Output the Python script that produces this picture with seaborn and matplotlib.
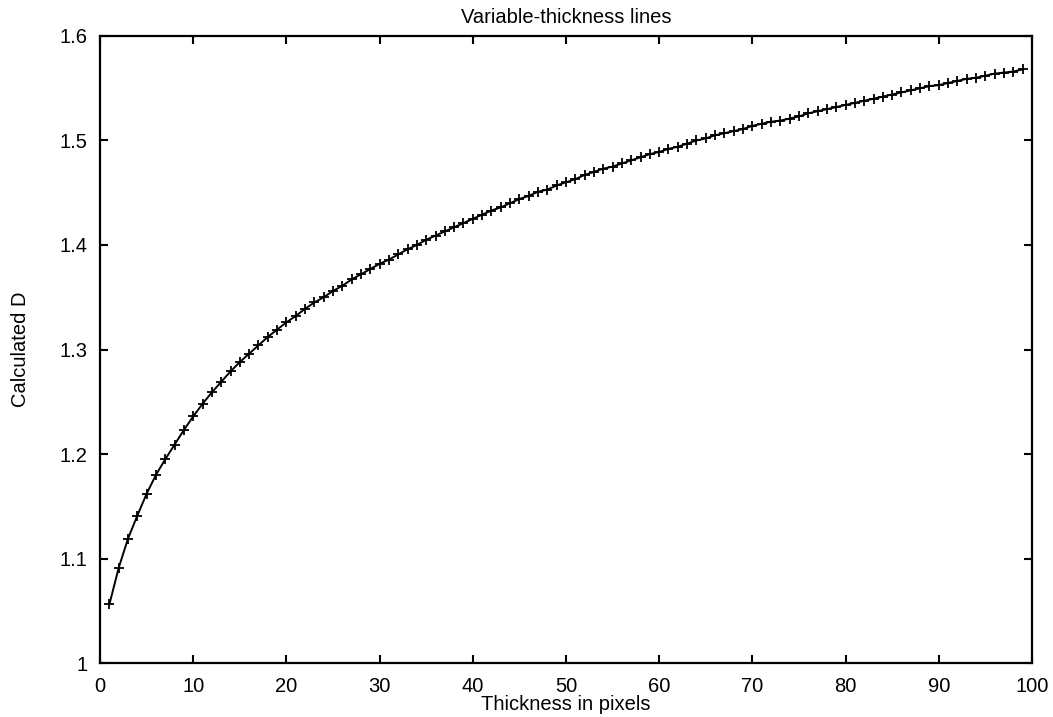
import numpy as np
import pandas as pd
import seaborn as sns
import matplotlib.pyplot as plt

sns.set_theme(style="white")
plt.rcParams['font.family'] = ['Liberation Sans', 'DejaVu Sans']

thickness = list(range(1, 100))
calc_d = [
    1.056, 1.091, 1.119, 1.141, 1.162, 1.180, 1.195, 1.209, 1.223, 1.236,
    1.248, 1.259, 1.269, 1.279, 1.288, 1.296, 1.304, 1.312, 1.319, 1.326,
    1.332, 1.339, 1.345, 1.350, 1.356, 1.361, 1.367, 1.372, 1.377, 1.382,
    1.386, 1.391, 1.396, 1.400, 1.405, 1.409, 1.413, 1.417, 1.421, 1.425,
    1.429, 1.433, 1.436, 1.440, 1.444, 1.447, 1.451, 1.453, 1.457, 1.460,
    1.463, 1.467, 1.470, 1.473, 1.475, 1.478, 1.481, 1.484, 1.487, 1.489,
    1.492, 1.494, 1.497, 1.500, 1.502, 1.505, 1.507, 1.509, 1.511, 1.514,
    1.516, 1.518, 1.519, 1.521, 1.523, 1.526, 1.528, 1.530, 1.532, 1.534,
    1.536, 1.538, 1.540, 1.542, 1.544, 1.546, 1.548, 1.550, 1.552, 1.553,
    1.555, 1.557, 1.559, 1.560, 1.562, 1.564, 1.565, 1.566, 1.568,
]
xticks = list(range(0, 101, 10))
yticks = [1, 1.1, 1.2, 1.3, 1.4, 1.5, 1.6]
ytick_labels = ['1', '1.1', '1.2', '1.3', '1.4', '1.5', '1.6']

df = pd.DataFrame({'thickness': thickness, 'D': calc_d})

fig = plt.figure(figsize=(10.53, 7.17), dpi=100)
ax = fig.add_axes([0.095, 0.0753, 0.885, 0.8745])

sns.lineplot(data=df, x='thickness', y='D', ax=ax, color='black',
             linewidth=1.4, marker='+', markersize=7, markeredgewidth=1.3,
             markeredgecolor='black')

ax.set_xlim(0, 100)
ax.set_ylim(1, 1.6)
ax.set_xticks(xticks)
ax.set_yticks(yticks)
ax.set_yticklabels(ytick_labels)
ax.tick_params(direction='in', length=6, width=1.5, top=True, right=True,
               bottom=True, left=True, labelsize=14.5, colors='black',
               labelcolor='black')
ax.tick_params(axis='y', pad=9)
ax.tick_params(axis='x', pad=10)
for s in ax.spines.values():
    s.set_linewidth(1.6)
    s.set_color('black')

ax.set_title('Variable-thickness lines', fontsize=14.5, pad=9, color='black')
ax.set_xlabel('Thickness in pixels', fontsize=14.5, labelpad=-1, color='black')
ax.set_ylabel('Calculated D', fontsize=14.5, labelpad=21, color='black')

plt.savefig('out.png', dpi=100)
